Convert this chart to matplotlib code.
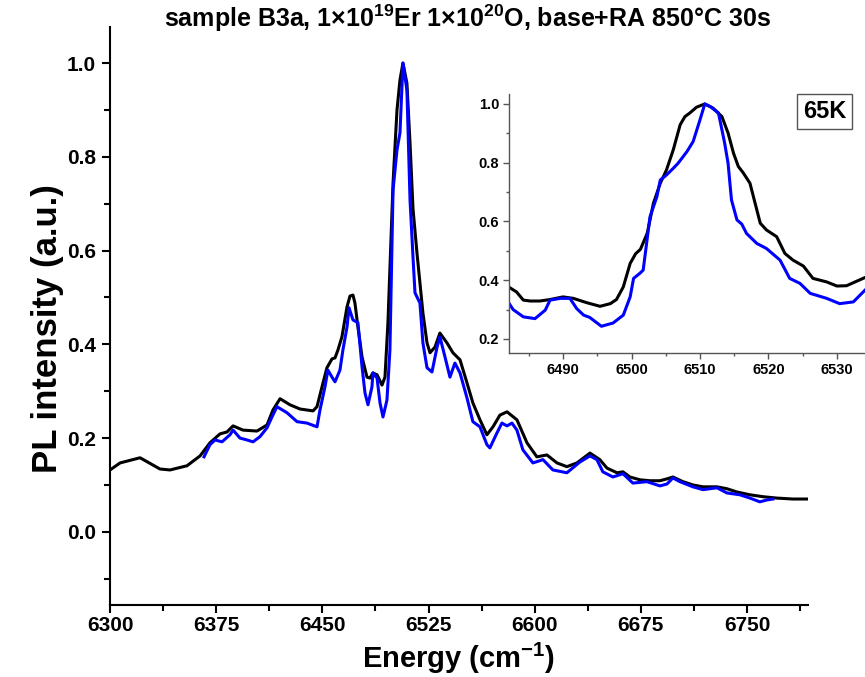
import matplotlib
matplotlib.use("Agg")
import matplotlib.pyplot as plt
from matplotlib.ticker import MultipleLocator

plt.rcParams['font.family'] = ['Liberation Sans', 'DejaVu Sans']
plt.rcParams['font.weight'] = 'bold'
plt.rcParams['mathtext.fontset'] = 'custom'
plt.rcParams['mathtext.rm'] = 'Liberation Sans:bold'
plt.rcParams['mathtext.bf'] = 'Liberation Sans:bold'
plt.rcParams['mathtext.default'] = 'regular'

# ---------------------------------------------------------------
# main spectrum, black curve (energy in cm^-1, normalised PL)
# ---------------------------------------------------------------
black_energy = [6300.0, 6307.1, 6321.2, 6335.3, 6342.4, 6354.4, 6363.6, 6370.6, 6377.7, 6382.6,
                6386.9, 6393.9, 6403.8, 6410.9, 6415.1, 6420.1, 6427.1, 6434.2, 6443.4, 6446.2,
                6449.7, 6453.2, 6456.8, 6458.9, 6461.0, 6463.8, 6467.4, 6469.5, 6471.6, 6473.0,
                6475.1, 6478.0, 6481.5, 6483.6, 6485.7, 6488.6, 6492.1, 6494.2, 6496.3, 6499.9,
                6502.7, 6504.8, 6506.9, 6509.7, 6511.9, 6514.0, 6516.8, 6518.9, 6521.0, 6523.9,
                6526.0, 6529.5, 6533.0, 6538.0, 6542.2, 6547.2, 6552.1, 6556.3, 6561.3, 6566.2,
                6570.5, 6575.4, 6580.4, 6587.4, 6594.5, 6601.5, 6608.6, 6615.7, 6622.7, 6629.8,
                6639.0, 6646.0, 6651.0, 6658.1, 6662.3, 6667.2, 6674.3, 6681.4, 6688.4, 6693.4,
                6697.6, 6704.7, 6711.7, 6718.8, 6728.7, 6735.7, 6742.8, 6752.0, 6761.1, 6771.0,
                6782.3, 6792.2]
black_pl = [0.132, 0.147, 0.158, 0.134, 0.132, 0.141, 0.162, 0.190, 0.209, 0.213,
            0.226, 0.217, 0.215, 0.228, 0.260, 0.284, 0.271, 0.262, 0.258, 0.267,
            0.309, 0.350, 0.369, 0.371, 0.388, 0.416, 0.480, 0.503, 0.505, 0.488,
            0.437, 0.373, 0.330, 0.328, 0.339, 0.335, 0.313, 0.330, 0.446, 0.744,
            0.900, 0.964, 1.000, 0.957, 0.829, 0.689, 0.595, 0.531, 0.467, 0.403,
            0.382, 0.394, 0.424, 0.403, 0.382, 0.367, 0.318, 0.275, 0.239, 0.207,
            0.224, 0.249, 0.256, 0.239, 0.190, 0.160, 0.164, 0.147, 0.139, 0.147,
            0.168, 0.154, 0.136, 0.126, 0.128, 0.117, 0.111, 0.109, 0.109, 0.113,
            0.117, 0.107, 0.100, 0.096, 0.096, 0.092, 0.085, 0.079, 0.075, 0.072,
            0.070, 0.070]

# main spectrum, blue curve
blue_energy = [6366.4, 6370.6, 6374.2, 6379.1, 6384.7, 6386.9, 6391.8, 6396.7, 6401.0, 6405.9,
               6410.9, 6414.4, 6417.9, 6425.0, 6432.1, 6439.1, 6446.2, 6448.3, 6451.8, 6453.9,
               6456.8, 6458.9, 6462.4, 6464.5, 6467.4, 6468.8, 6471.6, 6475.1, 6478.0, 6480.1,
               6482.2, 6485.0, 6485.7, 6488.6, 6490.7, 6492.8, 6495.6, 6497.7, 6499.9, 6502.7,
               6504.8, 6506.9, 6509.7, 6511.9, 6514.0, 6515.4, 6518.9, 6521.0, 6523.9, 6527.4,
               6531.0, 6533.0, 6536.6, 6540.1, 6543.6, 6547.2, 6552.1, 6556.3, 6561.3, 6566.2,
               6568.3, 6573.3, 6576.8, 6580.4, 6583.9, 6587.4, 6591.6, 6598.7, 6605.8, 6612.8,
               6622.7, 6631.9, 6639.0, 6643.9, 6648.1, 6655.2, 6662.3, 6669.3, 6679.2, 6688.4,
               6693.4, 6697.6, 6702.5, 6711.7, 6718.8, 6728.7, 6735.7, 6744.9, 6752.0, 6759.0,
               6764.0, 6768.2]
blue_pl = [0.160, 0.186, 0.196, 0.192, 0.207, 0.217, 0.200, 0.196, 0.192, 0.203,
           0.222, 0.245, 0.267, 0.254, 0.235, 0.232, 0.224, 0.260, 0.309, 0.345,
           0.330, 0.320, 0.345, 0.388, 0.437, 0.478, 0.452, 0.446, 0.352, 0.296,
           0.271, 0.309, 0.339, 0.328, 0.275, 0.245, 0.281, 0.388, 0.729, 0.815,
           0.851, 1.000, 0.942, 0.708, 0.586, 0.510, 0.488, 0.403, 0.350, 0.341,
           0.394, 0.416, 0.373, 0.330, 0.360, 0.339, 0.286, 0.235, 0.224, 0.186,
           0.179, 0.211, 0.232, 0.226, 0.232, 0.217, 0.175, 0.147, 0.154, 0.132,
           0.126, 0.149, 0.162, 0.154, 0.128, 0.117, 0.124, 0.104, 0.107, 0.098,
           0.102, 0.115, 0.107, 0.096, 0.090, 0.094, 0.083, 0.079, 0.072, 0.064,
           0.068, 0.070]

# ---------------------------------------------------------------
# inset (zoom on the main line)
# ---------------------------------------------------------------
inset_black_energy = [6482.1, 6483.2, 6484.2, 6485.2, 6486.6, 6488.1, 6490.0, 6491.5, 6493.5, 6495.4,
                      6496.9, 6497.8, 6498.8, 6499.8, 6500.6, 6501.3, 6502.3, 6503.2, 6504.2, 6505.1,
                      6506.1, 6507.1, 6507.8, 6508.5, 6509.5, 6510.7, 6511.9, 6513.2, 6514.1, 6514.9,
                      6515.6, 6516.3, 6517.3, 6518.8, 6519.7, 6521.2, 6522.4, 6523.6, 6525.1, 6526.5,
                      6528.5, 6530.0, 6531.4, 6534.1]
inset_black_pl = [0.376, 0.360, 0.332, 0.329, 0.329, 0.334, 0.343, 0.338, 0.323, 0.311,
                  0.320, 0.334, 0.377, 0.457, 0.490, 0.505, 0.560, 0.662, 0.730, 0.775,
                  0.844, 0.929, 0.957, 0.969, 0.989, 1.000, 0.986, 0.957, 0.901, 0.832,
                  0.787, 0.766, 0.730, 0.594, 0.571, 0.548, 0.491, 0.468, 0.448, 0.406,
                  0.394, 0.380, 0.381, 0.409]

inset_blue_energy = [6482.2, 6482.7, 6484.2, 6485.9, 6487.4, 6488.1, 6489.6, 6491.0, 6492.0, 6493.0,
                     6493.9, 6495.6, 6497.3, 6498.8, 6499.8, 6500.3, 6501.2, 6501.7, 6502.7, 6503.7,
                     6504.2, 6505.1, 6506.1, 6506.8, 6508.1, 6509.0, 6510.0, 6510.7, 6511.5, 6512.7,
                     6513.6, 6514.1, 6514.6, 6515.4, 6516.1, 6516.8, 6518.3, 6519.7, 6521.7, 6523.1,
                     6524.6, 6526.1, 6528.5, 6530.4, 6532.4, 6534.1]
inset_blue_pl = [0.318, 0.300, 0.275, 0.269, 0.298, 0.332, 0.338, 0.338, 0.303, 0.281,
                 0.273, 0.243, 0.254, 0.281, 0.343, 0.406, 0.423, 0.434, 0.616, 0.684,
                 0.741, 0.758, 0.781, 0.798, 0.838, 0.872, 0.946, 1.000, 0.991, 0.969,
                 0.867, 0.798, 0.673, 0.605, 0.591, 0.559, 0.525, 0.508, 0.468, 0.406,
                 0.389, 0.355, 0.338, 0.320, 0.326, 0.366]

main_xticks = [6300, 6375, 6450, 6525, 6600, 6675, 6750]
main_yticks = [0.0, 0.2, 0.4, 0.6, 0.8, 1.0]
inset_xticks = [6490, 6500, 6510, 6520, 6530]
inset_yticks = [0.2, 0.4, 0.6, 0.8, 1.0]


def style_axes(axe, color, width, major_len, minor_len):
    for side in ('top', 'right'):
        axe.spines[side].set_visible(False)
    for side in ('left', 'bottom'):
        axe.spines[side].set_color(color)
        axe.spines[side].set_linewidth(width)
    axe.tick_params(which='major', direction='out', length=major_len, width=width, color=color)
    axe.tick_params(which='minor', direction='out', length=minor_len, width=width, color=color)


fig = plt.figure(figsize=(8.65, 6.77), dpi=100)

# main plot
axe = fig.add_axes([0.1272, 0.1064, 0.8069, 0.8538])
axe.plot(black_energy, black_pl, color='black', lw=2.2)
axe.plot(blue_energy, blue_pl, color='#0000ff', lw=2.2)
axe.set_xlim(6300, 6793)
axe.set_ylim(-0.156, 1.077)
axe.set_xticks(main_xticks)
axe.set_yticks(main_yticks)
axe.xaxis.set_minor_locator(MultipleLocator(37.5))
axe.yaxis.set_minor_locator(MultipleLocator(0.1))
axe.set_yticklabels(["%.1f" % v for v in main_yticks])
style_axes(axe, 'black', 1.5, 6, 4)
axe.tick_params(axis='x', labelsize=15, pad=2)
axe.tick_params(axis='y', labelsize=15, pad=4)
axe.set_xlabel("Energy (cm$^{-1}$)", fontsize=21, fontweight='bold')
axe.xaxis.label.set_va('center')
axe.xaxis.set_label_coords(0.5, -0.092)
axe.set_ylabel("PL intensity (a.u.)", fontsize=25, fontweight='bold')
axe.yaxis.label.set_va('center')
axe.yaxis.set_label_coords(-0.089, 0.479)

fig.text(0.541, 0.973, "sample B3a, 1\u00d710$^{19}$Er 1\u00d710$^{20}$O, base+RA 850\u00b0C 30s",
         ha='center', va='center', fontsize=18, fontweight='bold')

# inset
ins = fig.add_axes([0.5884, 0.4786, 0.4116, 0.3826])
ins.patch.set_alpha(0.0)
ins.plot(inset_black_energy, inset_black_pl, color='black', lw=2.2)
ins.plot(inset_blue_energy, inset_blue_pl, color='#0000ff', lw=2.2)
ins.set_xlim(6482.1, 6534.1)
ins.set_ylim(0.152, 1.034)
ins.set_xticks(inset_xticks)
ins.set_yticks(inset_yticks)
ins.xaxis.set_minor_locator(MultipleLocator(5))
ins.yaxis.set_minor_locator(MultipleLocator(0.1))
ins.set_yticklabels(["%.1f" % v for v in inset_yticks])
style_axes(ins, '#555555', 1.0, 4, 2.5)
ins.tick_params(labelsize=10.5, pad=3)

fig.text(0.953, 0.835, "65K", ha='center', va='center', fontsize=17, fontweight='bold',
         bbox=dict(boxstyle='square,pad=0.25', facecolor='white', edgecolor='#555555', lw=1.0))

fig.savefig("out.png", dpi=100)
